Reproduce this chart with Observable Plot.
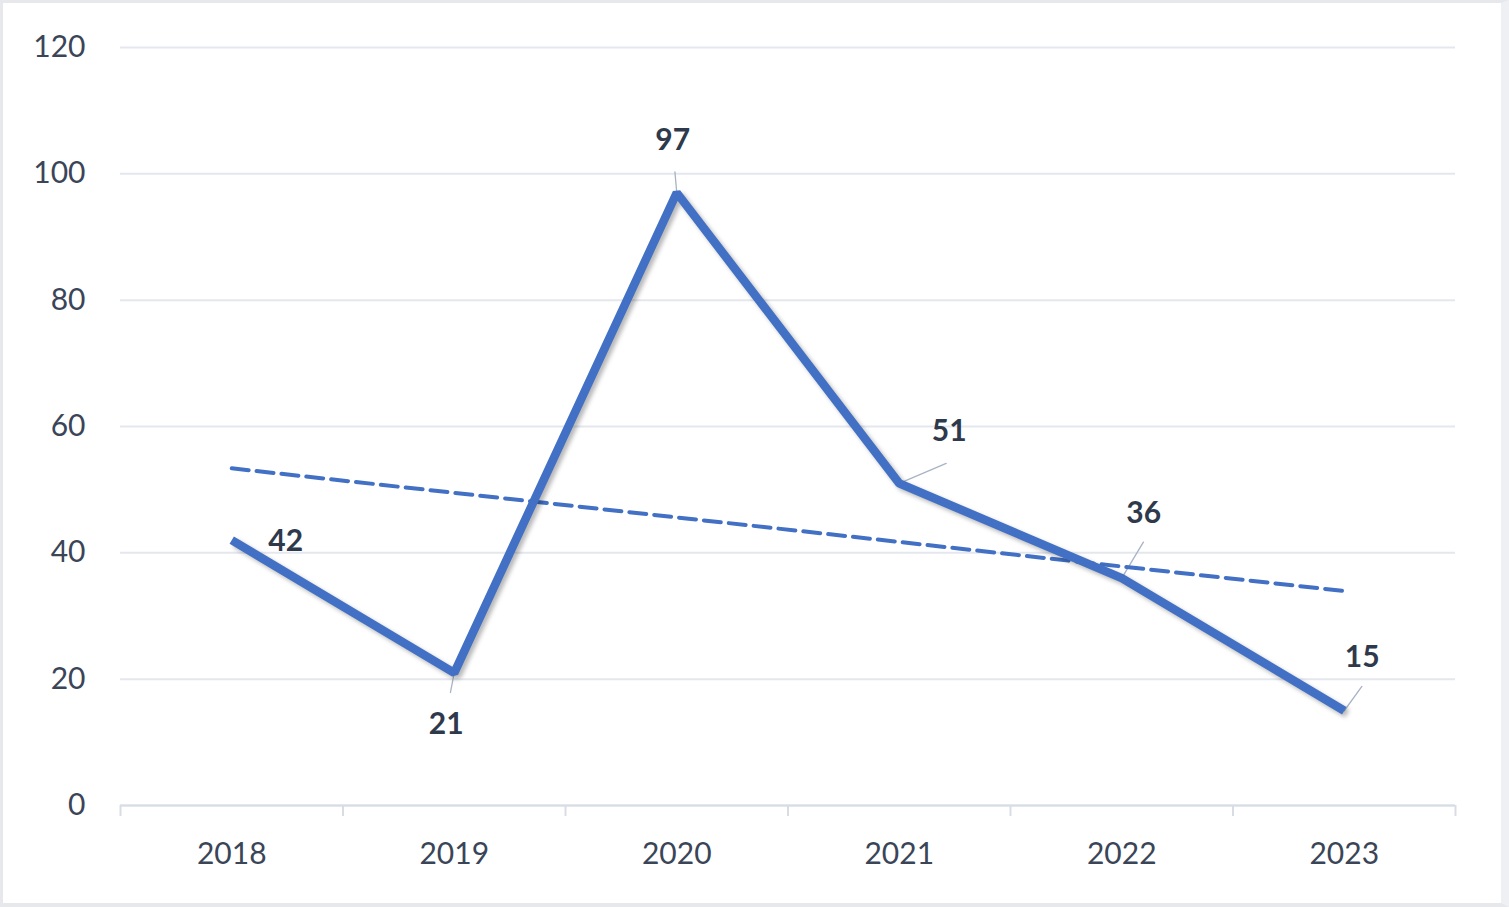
<!DOCTYPE html>
<html>
<head>
<meta charset="utf-8">
<script src="https://cdn.jsdelivr.net/npm/d3@7"></script>
<script src="https://cdn.jsdelivr.net/npm/@observablehq/plot@0.6"></script>
<style>
  html, body { margin: 0; padding: 0; background: #fff; }
  #wrap { position: relative; width: 1509px; height: 907px; overflow: hidden; }
  #frame { position: absolute; left: 0; top: 0; width: 1509px; height: 907px; box-sizing: border-box;
           border-left: 3px solid #E6E8EC; border-top: 3px solid #E6E8EC; border-right: 8px solid #EEF0F3; border-bottom: 4px solid #E6E8EC; pointer-events: none; }
</style>
</head>
<body>
<div id="wrap"><div id="frame"></div></div>
<script>
// Data
const years = [2018, 2019, 2020, 2021, 2022, 2023];
const values = [42, 21, 97, 51, 36, 15];
const yTicks = [0, 20, 40, 60, 80, 100, 120];

// Label placement (styling only)
const labelDx = [54, -8, -4, 50, 22, 18];
const labelDy = [1, 52, -52, -52, -65, -53];
const leaderAngle = [null, 191, -5, 67, 31, 36];
const leaderLen = [0, 20, 21, 51, 42, 30];

const data = years.map((year, i) => ({year, value: values[i], i}));
const bounds = [years[0] - 0.5, ...years.map(y => y + 0.5)];

const blue = "#4270C4";
const textColor = "#3A4558";

const leaderData = data.filter(d => leaderLen[d.i] > 0);

const labelMarks = data.map(d => Plot.text([d], {
  x: "year", y: "value", text: d => String(d.value),
  dx: labelDx[d.i], dy: labelDy[d.i],
  fontSize: 30, fontWeight: "bold", fill: "#2E394B", lineAnchor: "middle", textAnchor: "middle"
}));

const chart = Plot.plot({
  width: 1509,
  height: 907,
  marginLeft: 120,
  marginRight: 54,
  marginTop: 47,
  marginBottom: 102,
  style: {fontFamily: "Lato, 'Open Sans', sans-serif", fontSize: "30px", color: textColor, background: "transparent"},
  x: {domain: [bounds[0], bounds[bounds.length - 1]], type: "linear", label: null},
  y: {domain: [0, 120], label: null},
  length: {type: "identity"},
  marks: [
    Plot.gridY(yTicks, {stroke: "#E4E7EE", strokeOpacity: 1, strokeWidth: 2}),
    Plot.ruleY([0], {stroke: "#D8DCE4", strokeWidth: 2}),
    Plot.axisX(bounds, {tickSize: 11, tickFormat: () => "", label: null, stroke: "#D8DCE4", strokeWidth: 2}),
    Plot.axisX(years, {tickSize: 0, tickPadding: 37, tickFormat: d => String(d), label: null, fontSize: 30}),
    Plot.axisY(yTicks, {tickSize: 0, tickPadding: 35, label: null, fontSize: 30}),
    Plot.vector(leaderData, {
      x: "year", y: "value", anchor: "start",
      length: d => leaderLen[d.i], rotate: d => leaderAngle[d.i],
      shape: {draw(context, l) { context.moveTo(0, 0); context.lineTo(0, -l); }},
      stroke: "#A8B3C5", strokeWidth: 1.3
    }),
    Plot.linearRegressionY(data, {x: "year", y: "value", ci: 0, stroke: blue, strokeWidth: 4, strokeDasharray: "17,8"}),
    Plot.line(data, {x: "year", y: "value", stroke: blue, strokeWidth: 8.5, strokeLinejoin: "miter", strokeLinecap: "butt"}),
    ...labelMarks
  ]
});

document.getElementById("wrap").insertBefore(chart, document.getElementById("frame"));
chart.style.position = "absolute";
chart.style.left = "0";
chart.style.top = "0";
const lineG = chart.querySelector('g[aria-label="line"]');
if (lineG) lineG.style.filter = "drop-shadow(3px 3px 2px rgba(0,0,0,0.28))";
</script>
</body>
</html>
